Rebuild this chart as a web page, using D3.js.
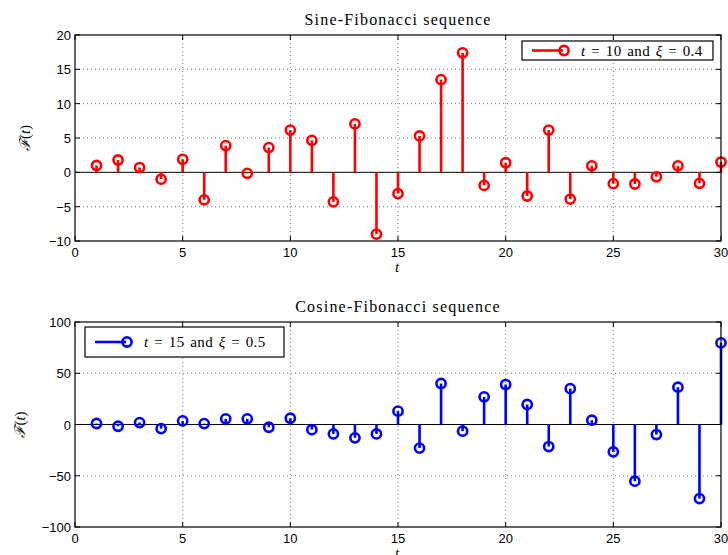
<!DOCTYPE html>
<html>
<head>
<meta charset="utf-8">
<script src="https://cdn.jsdelivr.net/npm/d3@7"></script>
<style>
  body { margin: 0; background: #fff; }
  svg { display: block; }
  .tick-label { font-family: "Liberation Sans", Arial, sans-serif; font-size: 13px; fill: #000; }
  .title { font-family: "Liberation Serif", "DejaVu Serif", serif; font-size: 16px; letter-spacing: 1.2px; fill: #000; }
  .leg { font-family: "Liberation Serif", "DejaVu Serif", serif; font-size: 15px; letter-spacing: 0.4px; word-spacing: 1.5px; fill: #000; }
</style>
</head>
<body>
<div id="chart"></div>
<script>
// t = 1..30
const tValues = d3.range(1, 31);

// Sine-Fibonacci sequence (t = 10, xi = 0.4)
const sineValues = [1.0, 1.8, 0.7, -1.0, 1.9, -4.0, 3.9, -0.15, 3.6, 6.15,
  4.65, -4.3, 7.05, -9.0, -3.1, 5.3, 13.5, 17.4, -1.9, 1.4,
  -3.45, 6.15, -3.9, 0.95, -1.65, -1.7, -0.65, 0.95, -1.6, 1.5];

// Cosine-Fibonacci sequence (t = 15, xi = 0.5)
const cosineValues = [1, -1.7, 1.9, -4, 3.5, 0.9, 5.5, 5.5, -2.7, 6.1,
  -5, -9.2, -13, -9.2, 13, -23, 40, -6.5, 27, 39,
  19.5, -21.5, 35, 4.2, -26.7, -55.3, -9.8, 36.4, -72.3, 79.6];

const xTicks = [0, 5, 10, 15, 20, 25, 30];
const sineTicks = [-10, -5, 0, 5, 10, 15, 20];
const cosineTicks = [-100, -50, 0, 50, 100];

const panels = [
  { title: "Sine-Fibonacci sequence", values: sineValues, yDomain: [-10, 20], yTicks: sineTicks,
    color: "#ff0000", top: 35, bottom: 241, legend: { n: "10", xi: "0.4", x: 522, y: 41, w: 191, h: 19 }, ylabX: 30 },
  { title: "Cosine-Fibonacci sequence", values: cosineValues, yDomain: [-100, 100], yTicks: cosineTicks,
    color: "#0000ff", top: 322, bottom: 527, legend: { n: "15", xi: "0.5", x: 85, y: 327, w: 199, h: 30 }, ylabX: 25 }
];

const width = 728, height = 555;
const left = 75, right = 721;

const svg = d3.select("#chart").append("svg").attr("width", width).attr("height", height);
const x = d3.scaleLinear().domain([0, 30]).range([left, right]);
const fmt = (v) => (v < 0 ? "\u2212" + Math.abs(v) : String(v));

panels.forEach((p) => {
  const y = d3.scaleLinear().domain(p.yDomain).range([p.bottom, p.top]);
  const g = svg.append("g");

  // grid
  g.selectAll(".gx").data(xTicks.slice(1, -1)).join("line")
    .attr("x1", (d) => x(d)).attr("x2", (d) => x(d)).attr("y1", p.top).attr("y2", p.bottom)
    .attr("stroke", "#555").attr("stroke-width", 0.8).attr("stroke-dasharray", "1,3");
  g.selectAll(".gy").data(p.yTicks.slice(1, -1).filter((d) => d !== 0)).join("line")
    .attr("x1", left).attr("x2", right).attr("y1", (d) => y(d)).attr("y2", (d) => y(d))
    .attr("stroke", "#555").attr("stroke-width", 0.8).attr("stroke-dasharray", "1,3");

  // baseline
  g.append("line").attr("x1", left).attr("x2", right).attr("y1", y(0)).attr("y2", y(0))
    .attr("stroke", "#000").attr("stroke-width", 1);

  // ticks inward on all sides
  const tl = 5;
  xTicks.forEach((d) => {
    g.append("line").attr("x1", x(d)).attr("x2", x(d)).attr("y1", p.bottom).attr("y2", p.bottom - tl).attr("stroke", "#000");
    g.append("line").attr("x1", x(d)).attr("x2", x(d)).attr("y1", p.top).attr("y2", p.top + tl).attr("stroke", "#000");
  });
  p.yTicks.forEach((d) => {
    g.append("line").attr("x1", left).attr("x2", left + tl).attr("y1", y(d)).attr("y2", y(d)).attr("stroke", "#000");
    g.append("line").attr("x1", right).attr("x2", right - tl).attr("y1", y(d)).attr("y2", y(d)).attr("stroke", "#000");
  });

  // tick labels
  g.selectAll(".xl").data(xTicks).join("text").attr("class", "tick-label")
    .attr("x", (d) => x(d)).attr("y", p.bottom + 16).attr("text-anchor", "middle").text(fmt);
  g.selectAll(".yl").data(p.yTicks).join("text").attr("class", "tick-label")
    .attr("x", left - 4).attr("y", (d) => y(d) + 5).attr("text-anchor", "end").text(fmt);

  // stems
  const data = tValues.map((t, i) => ({ t, v: p.values[i] }));
  g.selectAll(".stem").data(data).join("line")
    .attr("x1", (d) => x(d.t)).attr("x2", (d) => x(d.t)).attr("y1", y(0)).attr("y2", (d) => y(d.v))
    .attr("stroke", p.color).attr("stroke-width", 2.6);
  g.selectAll(".mk").data(data).join("circle")
    .attr("cx", (d) => x(d.t)).attr("cy", (d) => y(d.v)).attr("r", 4.6)
    .attr("fill", "none").attr("stroke", p.color).attr("stroke-width", 2.6);

  // frame
  g.append("rect").attr("x", left).attr("y", p.top).attr("width", right - left).attr("height", p.bottom - p.top)
    .attr("fill", "none").attr("stroke", "#000").attr("stroke-width", 1.2);

  // title
  g.append("text").attr("class", "title").attr("x", (left + right) / 2).attr("y", p.top - 10)
    .attr("text-anchor", "middle").text(p.title);

  // axis labels
  g.append("text").attr("x", (left + right) / 2 - 1).attr("y", p.bottom + 31).attr("text-anchor", "middle")
    .style("font-family", "Liberation Serif, serif").style("font-style", "italic").style("font-size", "15px").text("t");
  const yl = g.append("text").attr("transform", `translate(${p.ylabX},${(p.top + p.bottom) / 2}) rotate(-90)`)
    .attr("text-anchor", "middle").style("font-family", "Liberation Serif, serif").style("font-size", "15px");
  yl.append("tspan").style("font-family", "DejaVu Serif, serif").style("font-style", "italic").text("\u2131");
  yl.append("tspan").text("(");
  yl.append("tspan").style("font-style", "italic").text("t");
  yl.append("tspan").text(")");

  // legend
  const L = p.legend;
  g.append("rect").attr("x", L.x).attr("y", L.y).attr("width", L.w).attr("height", L.h)
    .attr("fill", "#fff").attr("stroke", "#000").attr("stroke-width", 1.2);
  const ly = L.y + L.h / 2;
  g.append("line").attr("x1", L.x + 10).attr("x2", L.x + 41).attr("y1", ly).attr("y2", ly)
    .attr("stroke", p.color).attr("stroke-width", 2.6);
  g.append("circle").attr("cx", L.x + 42).attr("cy", ly).attr("r", 4.6)
    .attr("fill", "none").attr("stroke", p.color).attr("stroke-width", 2.6);
  const lt = g.append("text").attr("class", "leg").attr("x", L.x + 59).attr("y", ly + 5);
  lt.append("tspan").style("font-style", "italic").text("t");
  lt.append("tspan").text(` = ${p.legend.n} and `);
  lt.append("tspan").style("font-style", "italic").text("\u03be");
  lt.append("tspan").text(` = ${p.legend.xi}`);
});
</script>
</body>
</html>
